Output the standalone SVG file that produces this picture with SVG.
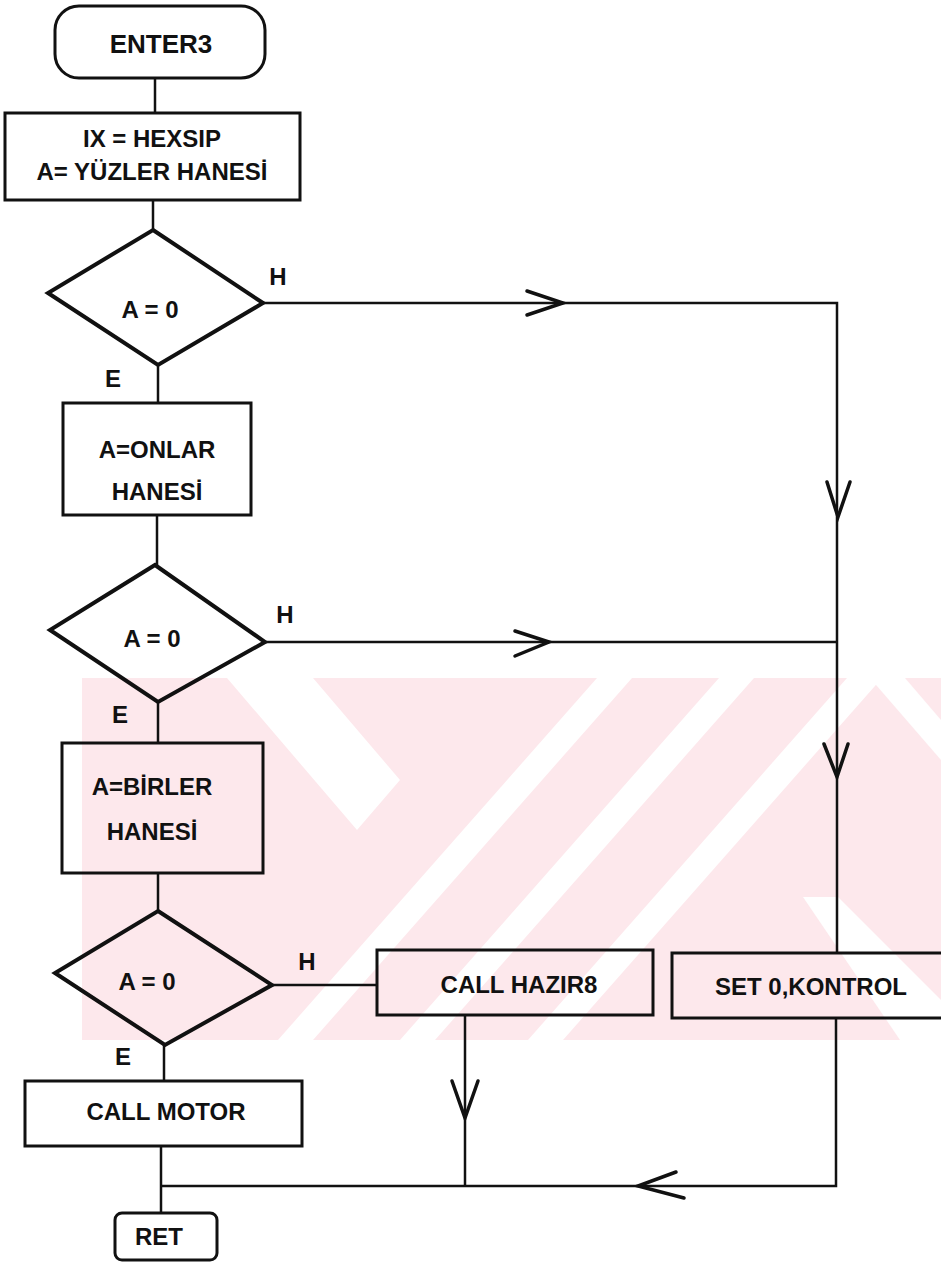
<svg xmlns="http://www.w3.org/2000/svg" width="941" height="1264" viewBox="0 0 941 1264">
<defs>
<style>
.box{fill:none;stroke:#111;stroke-width:3}
.dia{fill:none;stroke:#111;stroke-width:4;stroke-linejoin:miter}
.ln{fill:none;stroke:#111;stroke-width:2.5}
.ar{fill:none;stroke:#111;stroke-width:3.5;stroke-linecap:round;stroke-linejoin:miter}
text{font-family:"Liberation Sans",Arial,sans-serif;font-weight:bold;font-size:24px;fill:#111;text-anchor:middle}
</style>
<clipPath id="wm"><rect x="82" y="678" width="859" height="362"/></clipPath>
</defs>
<rect width="941" height="1264" fill="#fff"/>
<g id="watermark" clip-path="url(#wm)">
<rect x="82" y="678" width="859" height="362" fill="#fde8ec"/>
<g fill="#fff">
<polygon points="227,678 313,678 400,780 357,830"/>
<polygon points="597,678 632,678 313,1040 278,1040"/>
<polygon points="719,678 754,678 435,1040 400,1040"/>
<polygon points="847,678 882,678 563,1040 528,1040"/>
<polygon points="870,678 905,678 941,720 941,760"/>
<polygon points="803,897 838,897 941,1000 941,1040 900,1040"/>
</g>
</g>
<g id="connectors">
<path class="ln" d="M155 78V113"/>
<path class="ln" d="M153 200V230"/>
<path class="ln" d="M263 303H837V953"/>
<path class="ln" d="M158 365V403"/>
<path class="ln" d="M157 515V565"/>
<path class="ln" d="M265 642H837"/>
<path class="ln" d="M158 702V743"/>
<path class="ln" d="M158 873V911"/>
<path class="ln" d="M272 985H377"/>
<path class="ln" d="M164 1045V1081"/>
<path class="ln" d="M161 1146V1213"/>
<path class="ln" d="M465 1015V1186"/>
<path class="ln" d="M836 1018V1186H161"/>
<polyline class="ar" points="527,291 563,303 527,315"/>
<polyline class="ar" points="827,482 838,517 850,482"/>
<polyline class="ar" points="515,631 549,642 515,656"/>
<polyline class="ar" points="824,744 837,777 848,744"/>
<polyline class="ar" points="452,1081 465,1118 478,1081"/>
<polyline class="ar" points="676,1172 638,1186 684,1198"/>
<text x="278" y="285">H</text>
<text x="113" y="387">E</text>
<text x="285" y="623">H</text>
<text x="120" y="723">E</text>
<text x="307" y="970">H</text>
<text x="123" y="1065">E</text>
</g>
<g id="enter3">
<rect class="box" x="55" y="6" width="210" height="72" rx="24"/>
<text x="161" y="53" style="font-size:26px">ENTER3</text>
</g>
<g id="init">
<rect class="box" x="5" y="113" width="295" height="87"/>
<text x="152" y="147">IX = HEXSIP</text>
<text x="152" y="180">A= YÜZLER HANESİ</text>
</g>
<g id="dec1">
<polygon class="dia" points="153,230 263,303 158,365 48,293"/>
<text x="150" y="318">A = 0</text>
</g>
<g id="onlar">
<rect class="box" x="63" y="403" width="188" height="112"/>
<text x="157" y="458">A=ONLAR</text>
<text x="157" y="500">HANESİ</text>
</g>
<g id="dec2">
<polygon class="dia" points="155,565 265,642 158,702 50,630"/>
<text x="152" y="647">A = 0</text>
</g>
<g id="birler">
<rect class="box" x="62" y="743" width="201" height="130"/>
<text x="152" y="795">A=BİRLER</text>
<text x="152" y="840">HANESİ</text>
</g>
<g id="dec3">
<polygon class="dia" points="158,911 272,985 165,1045 55,973"/>
<text x="147" y="990">A = 0</text>
</g>
<g id="hazir8">
<rect class="box" x="377" y="950" width="276" height="65"/>
<text x="519" y="993">CALL HAZIR8</text>
</g>
<g id="kontrol">
<rect class="box" x="672" y="953" width="275" height="65"/>
<text x="811" y="995">SET 0,KONTROL</text>
</g>
<g id="motor">
<rect class="box" x="25" y="1081" width="277" height="65"/>
<text x="166" y="1120">CALL MOTOR</text>
</g>
<g id="ret">
<rect class="box" x="115" y="1213" width="102" height="47" rx="7"/>
<text x="159" y="1245">RET</text>
</g>
</svg>
